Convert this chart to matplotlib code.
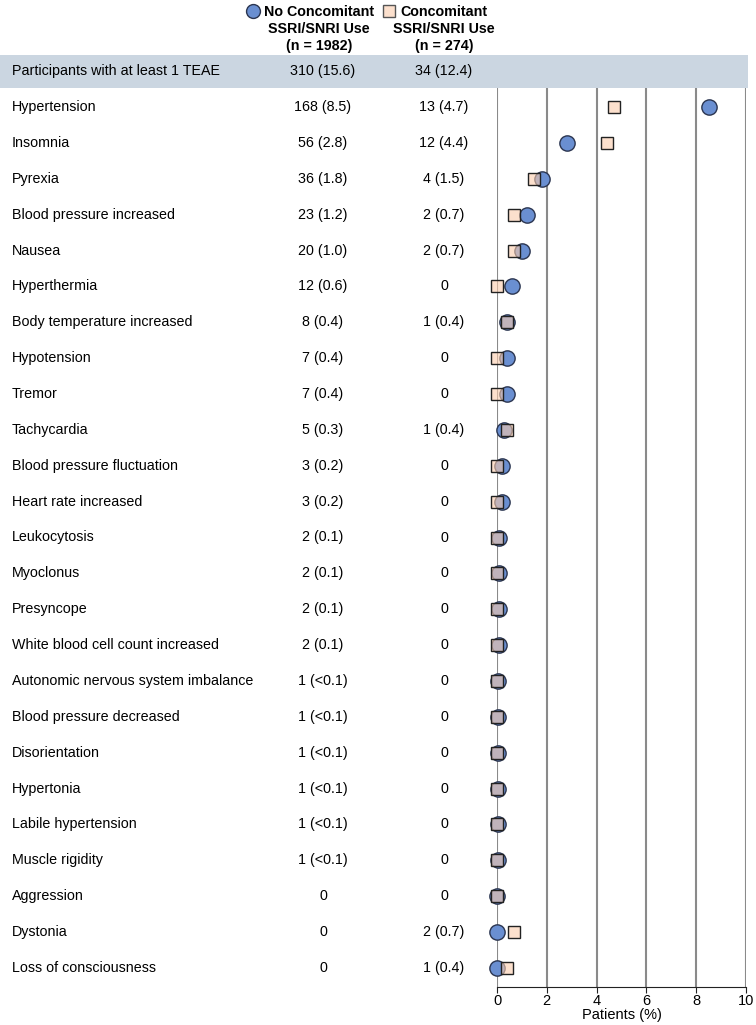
import numpy as np
import matplotlib
matplotlib.use("Agg")
import matplotlib.pyplot as plt
from matplotlib.transforms import blended_transform_factory
from matplotlib.patches import Rectangle

plt.rcParams['font.family'] = ['Liberation Sans', 'DejaVu Sans']

events = ["Hypertension", "Insomnia", "Pyrexia", "Blood pressure increased", "Nausea",
          "Hyperthermia", "Body temperature increased", "Hypotension", "Tremor",
          "Tachycardia", "Blood pressure fluctuation", "Heart rate increased",
          "Leukocytosis", "Myoclonus", "Presyncope", "White blood cell count increased",
          "Autonomic nervous system imbalance", "Blood pressure decreased",
          "Disorientation", "Hypertonia", "Labile hypertension", "Muscle rigidity",
          "Aggression", "Dystonia", "Loss of consciousness"]
no_ssri_txt = ["168 (8.5)", "56 (2.8)", "36 (1.8)", "23 (1.2)", "20 (1.0)", "12 (0.6)",
               "8 (0.4)", "7 (0.4)", "7 (0.4)", "5 (0.3)", "3 (0.2)", "3 (0.2)",
               "2 (0.1)", "2 (0.1)", "2 (0.1)", "2 (0.1)", "1 (<0.1)", "1 (<0.1)",
               "1 (<0.1)", "1 (<0.1)", "1 (<0.1)", "1 (<0.1)", "0", "0", "0"]
ssri_txt = ["13 (4.7)", "12 (4.4)", "4 (1.5)", "2 (0.7)", "2 (0.7)", "0", "1 (0.4)", "0",
            "0", "1 (0.4)", "0", "0", "0", "0", "0", "0", "0", "0", "0", "0", "0", "0",
            "0", "2 (0.7)", "1 (0.4)"]
no_ssri_pct = [8.5, 2.8, 1.8, 1.2, 1.0, 0.6, 0.4, 0.4, 0.4, 0.3, 0.2, 0.2, 0.1, 0.1, 0.1,
               0.1, 0.05, 0.05, 0.05, 0.05, 0.05, 0.05, 0, 0, 0]
ssri_pct = [4.7, 4.4, 1.5, 0.7, 0.7, 0, 0.4, 0, 0, 0.4, 0, 0, 0, 0, 0, 0, 0, 0, 0, 0, 0, 0,
            0, 0.7, 0.4]
any_label = "Participants with at least 1 TEAE"
any_no_ssri = "310 (15.6)"
any_ssri = "34 (12.4)"

W, H = 756, 1025
fig = plt.figure(figsize=(W / 100, H / 100), dpi=100)
ax = fig.add_axes([497 / W, 1 - 987 / H, 249 / W, (987 - 88) / H])

rows = np.arange(len(events))
blue = "#6a8fd1"
peach = (0.98, 0.80, 0.68, 0.6)

ax.plot(no_ssri_pct, rows, "o", ms=11, mfc=blue, mec="#2b3550", mew=1.0, zorder=3, clip_on=False)
ax.plot(ssri_pct, rows, "s", ms=9, mfc=peach, mec="#222222", mew=1.0, zorder=4, clip_on=False)

ax.set_xlim(0, 10)
ax.set_ylim(len(events) - 0.47, -0.53)
ax.set_xticks([0, 2, 4, 6, 8, 10])
ax.set_yticks([])
for x in [0, 2, 4, 6, 8, 10]:
    ax.axvline(x, color="#8a8a8a", lw=1.5, zorder=1)
for s in ["top", "left", "right"]:
    ax.spines[s].set_visible(False)
ax.spines["bottom"].set_color("#222222")
ax.tick_params(axis="x", labelsize=10.5, length=4, pad=1, color="#222222")
ax.set_xlabel("Patients (%)", fontsize=10.5, labelpad=0)

tr = blended_transform_factory(fig.transFigure, ax.transData)

# header band
ax.add_patch(Rectangle((0, -1.46), 748 / W, 0.92, transform=tr, facecolor="#cbd6e1",
                       edgecolor="none", zorder=0, clip_on=False))

fs = 10.3
ax.text(12 / W, -1, any_label, transform=tr, fontsize=fs, va="center", ha="left", clip_on=False, zorder=5)
ax.text(323 / W, -1, any_no_ssri, transform=tr, fontsize=fs, va="center", ha="center", clip_on=False, zorder=5)
ax.text(444 / W, -1, any_ssri, transform=tr, fontsize=fs, va="center", ha="center", clip_on=False, zorder=5)
for i in rows:
    ax.text(12 / W, i, events[i], transform=tr, fontsize=fs, va="center", ha="left", clip_on=False)
    ax.text(323 / W, i, no_ssri_txt[i], transform=tr, fontsize=fs, va="center", ha="center", clip_on=False)
    ax.text(444 / W, i, ssri_txt[i], transform=tr, fontsize=fs, va="center", ha="center", clip_on=False)

# column headers
for xc, lines in [(319, ["No Concomitant", "SSRI/SNRI Use", "(n = 1982)"]),
                  (444, ["Concomitant", "SSRI/SNRI Use", "(n = 274)"])]:
    for k, t in enumerate(lines):
        fig.text(xc / W, 1 - (12 + 17 * k) / H, t, fontsize=fs, fontweight="bold",
                 ha="center", va="center")
fig.lines.append(plt.Line2D([253 / W], [1 - 11 / H], marker="o", ms=10, mfc=blue,
                            mec="#2b3550", transform=fig.transFigure))
fig.lines.append(plt.Line2D([389 / W], [1 - 11 / H], marker="s", ms=9, mfc=peach,
                            mec="#555555", transform=fig.transFigure))

fig.savefig("out.png", dpi=100)
